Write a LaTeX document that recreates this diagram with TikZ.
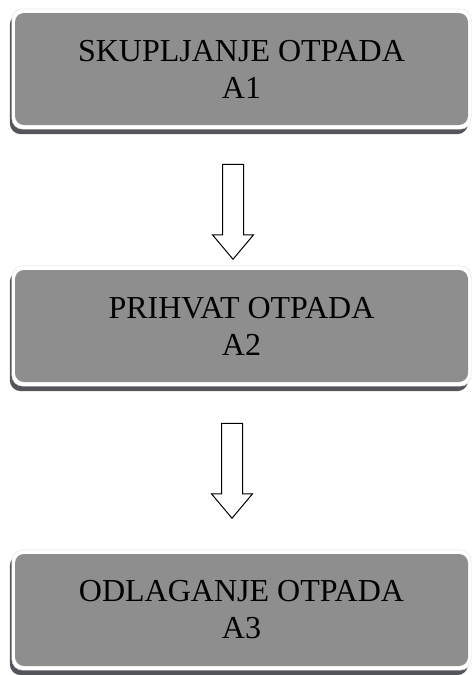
\documentclass[tikz,border=0pt]{standalone}
\usepackage{fontspec}
\setmainfont{Liberation Serif}
\usetikzlibrary{positioning,shapes.arrows,backgrounds,calc}
\definecolor{boxgray}{RGB}{142,142,142}
\definecolor{shadowgray}{RGB}{85,85,92}
\tikzset{font=\fontsize{32}{37}\selectfont}
\tikzset{stage/.style={fill=boxgray, rounded corners=9pt, minimum width=453pt,
  minimum height=112pt, align=center, text=black}}
\tikzset{downarrow/.style={single arrow, draw, line width=1pt, rotate=-90,
  minimum height=95pt, inner sep=10pt, single arrow head extend=10pt,
  single arrow tip angle=80}}

\begin{document}
\begin{tikzpicture}[x=1pt,y=-1pt]
\useasboundingbox (0,0) rectangle (473,675);
\node[stage] (a1) at (241.5,69) {SKUPLJANJE OTPADA\\A1};
\node[stage] (a2) at (241.5,326) {PRIHVAT OTPADA\\A2};
\node[stage] (a3) at (241.5,610) {ODLAGANJE OTPADA\\A3};
\node[downarrow] (s1) at (233,205.5) {};
\node[downarrow] (s2) at (232,464.5) {};
\begin{pgfonlayer}{background}
\foreach \b in {a1,a2,a3} {
\fill[shadowgray, rounded corners=11pt] ($(\b.south west)+(-5,9)$) rectangle ($(\b.north east)+(0,1)$);
\filldraw[white, draw=black!12, rounded corners=11pt] ($(\b.south west)+(-3,4)$) rectangle ($(\b.north east)+(3,-4)$);
}
\end{pgfonlayer}
\end{tikzpicture}
\end{document}
